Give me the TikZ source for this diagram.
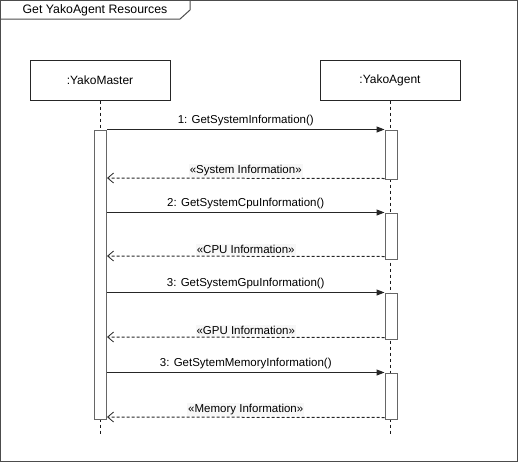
\documentclass[tikz,border=0pt]{standalone}
\usepackage{fontspec}
\setmainfont{Liberation Sans}
\usetikzlibrary{arrows.meta}

\begin{document}
\begin{tikzpicture}[x = 1pt, y = -1pt, line width = 1pt,
    every node/.style = {font = \fontsize{11.5}{13}\selectfont, inner sep = 2pt},
    head/.style = {draw = black!85, minimum width = 140pt, minimum height = 40pt,
        font = \fontsize{12}{14}\selectfont},
    act/.style = {draw = black!60, fill = white, minimum width = 12pt, inner sep = 0pt},
    life/.style = {draw = black!90, dash pattern = on 3pt off 3pt},
    call/.style = {draw = black!85, -{Triangle[length = 8pt, width = 6pt]}},
    reply/.style = {draw = black!85, dash pattern = on 3pt off 2pt,
        -{Straight Barb[length = 6pt, width = 10pt, line width = 0.8pt]}},
    msg/.style = {above = 1pt, midway},
    rmsg/.style = {above = 1pt, midway, fill = black!3, inner sep = 1pt}]
    \useasboundingbox (0,0) rectangle (519,463);
    % frame
    \draw[black!70] (0.5,0.5) rectangle (517.5,461.5);
    \draw[black!70] (0.5,19) -- (180,19) -- (190,10) -- (190,0.5);
    \node[anchor = center, font = \fontsize{12.3}{14}\selectfont] (title) at (95,10) {Get YakoAgent Resources};
    % lifelines
    \node[head] (master) at (100,80) {:YakoMaster};
    \node[head] (agent) at (390,80) {:YakoAgent};
    \coordinate (mend) at (100,434);
    \coordinate (aend) at (390,434);
    \draw[life] (master) -- (mend);
    \draw[life] (agent) -- (aend);
    % activations
    \node[act, minimum height = 289pt] (mact) at (100.5,274.5) {};
    \node[act, minimum height = 49pt] (a1) at (391,154.5) {};
    \node[act, minimum height = 46pt] (a2) at (391,236) {};
    \node[act, minimum height = 46pt] (a3) at (391,316) {};
    \node[act, minimum height = 46pt] (a4) at (391,396) {};
    % messages
    \draw[call] (mact.east |- a1.north west) -- node[msg] {1: GetSystemInformation()} (a1.north west);
    \draw[reply] ([yshift = 1pt]a1.south west) -- node[rmsg] {«System Information»} (mact.east |- 0,178);
    \draw[call] (mact.east |- a2.north west) -- node[msg] {2: GetSystemCpuInformation()} (a2.north west);
    \draw[reply] ([yshift = 3pt]a2.south west) -- node[rmsg] {«CPU Information»} (mact.east |- 0,256);
    \draw[call] (mact.east |- a3.north west) -- node[msg] {3: GetSystemGpuInformation()} (a3.north west);
    \draw[reply] ([yshift = 2pt]a3.south west) -- node[rmsg] {«GPU Information»} (mact.east |- 0,337);
    \draw[call] (mact.east |- a4.north west) -- node[msg] {3: GetSytemMemoryInformation()} (a4.north west);
    \draw[reply] ([yshift = 2pt]a4.south west) -- node[rmsg] {«Memory Information»} (mact.east |- 0,417);
\end{tikzpicture}
\end{document}
